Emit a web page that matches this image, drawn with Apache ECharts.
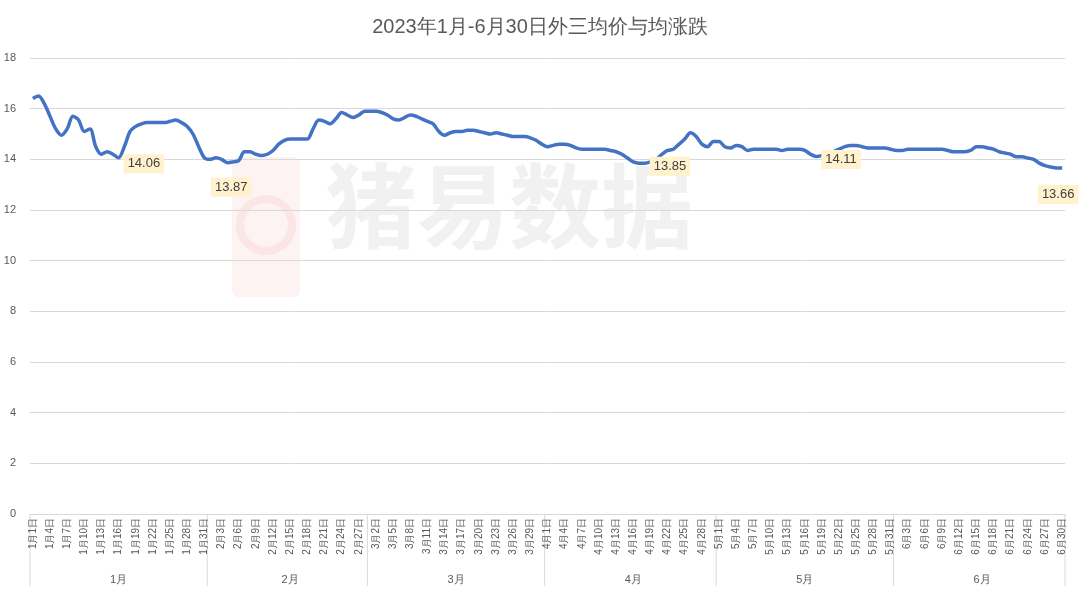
<!DOCTYPE html>
<html><head><meta charset="utf-8">
<script src="https://cdn.jsdelivr.net/npm/echarts@6/dist/echarts.min.js"></script>
<style>html,body{margin:0;padding:0;background:#fff}#c{width:1080px;height:591px}</style>
</head><body><div id="c"></div>
<script>
const monthLengths=[31,28,31,30,31,30];
const monthNames=['1月','2月','3月','4月','5月','6月'];
const values=[
16.4,16.5,16.2,15.7,15.2,14.95,15.2,15.7,15.55,15.1,
15.2,14.5,14.2,14.3,14.2,14.06,14.5,15.1,15.3,15.4,
15.45,15.45,15.45,15.45,15.5,15.55,15.45,15.3,15.0,14.5,
14.06,14.0,14.06,14.0,13.87,13.9,13.95,14.3,14.3,14.2,
14.15,14.2,14.35,14.6,14.75,14.8,14.8,14.8,14.8,15.2,
15.55,15.5,15.4,15.6,15.85,15.75,15.65,15.75,15.9,15.9,
15.9,15.85,15.75,15.6,15.55,15.65,15.75,15.7,15.6,15.5,
15.4,15.1,14.95,15.05,15.1,15.1,15.15,15.15,15.1,15.05,
15.0,15.05,15.0,14.95,14.9,14.9,14.9,14.85,14.75,14.6,
14.5,14.55,14.6,14.6,14.55,14.45,14.4,14.4,14.4,14.4,
14.4,14.35,14.3,14.2,14.05,13.9,13.85,13.85,13.9,14.0,
14.2,14.35,14.4,14.6,14.8,15.05,14.9,14.6,14.5,14.7,
14.7,14.5,14.45,14.55,14.5,14.35,14.4,14.4,14.4,14.4,
14.4,14.35,14.4,14.4,14.4,14.35,14.2,14.11,14.15,14.2,
14.3,14.4,14.5,14.55,14.55,14.5,14.45,14.45,14.45,14.45,
14.4,14.35,14.35,14.4,14.4,14.4,14.4,14.4,14.4,14.4,
14.35,14.3,14.3,14.3,14.35,14.5,14.5,14.45,14.4,14.3,
14.25,14.2,14.1,14.1,14.05,14.0,13.85,13.75,13.7,13.66,13.66];
const labelled={15:['right',[0,6]],34:['bottom',[4,10]],107:['right',[0,3]],137:['right',[0,3]],180:['bottom',[-4,12]]};

const days=[],monthStart=[],monthMid={};
monthLengths.forEach((n,m)=>{monthStart.push(days.length);monthMid[days.length+Math.floor(n/2)]=monthNames[m];
  for(let d=1;d<=n;d++)days.push((m+1)+'月'+d+'日');});
monthStart.push(days.length);
const data=values.map((v,i)=>{
  if(!labelled[i])return v;
  const [pos,off]=labelled[i];
  return {value:v,label:{show:true,position:pos,offset:off,backgroundColor:'#FFF2CC',color:'#404040',fontSize:13,padding:[3,4],formatter:p=>p.value.toFixed(2)}};
});
const chart=echarts.init(document.getElementById('c'));
const baseGraphic=[
    {type:'rect',left:232,top:157,shape:{width:68,height:140,r:6},style:{fill:'rgba(240,140,140,0.10)'},z:-1},
    {type:'circle',shape:{cx:266,cy:225,r:26},style:{fill:'none',stroke:'rgba(230,120,120,0.12)',lineWidth:8},z:-1},
    {type:'text',left:325,top:160,style:{text:'猪易数据',font:'bold 92px "Noto Sans CJK SC"',fill:'rgba(150,150,150,0.13)'},z:-1}
];
chart.setOption({
  animation:false,
  title:{text:'2023年1月-6月30日外三均价与均涨跌',left:'center',top:12,textStyle:{fontSize:20,fontWeight:'normal',color:'#595959'}},
  graphic:baseGraphic,
  grid:{left:30,right:15,top:58,bottom:77},
  xAxis:[{type:'category',data:days,boundaryGap:true,
    axisLine:{lineStyle:{color:'#D9D9D9'}},
    axisTick:{show:false},
    axisLabel:{interval:i=>i%3===0,rotate:90,fontSize:10,color:'#595959',margin:4}},
   {type:'category',data:days,position:'bottom',offset:52,boundaryGap:true,
    axisLine:{show:false},axisTick:{show:false},
    axisLabel:{interval:i=>monthMid[i]!==undefined,formatter:(v,i)=>monthMid[i]||'',fontSize:11,color:'#595959'}}],
  yAxis:{type:'value',min:0,max:18,interval:2,
    axisLabel:{fontSize:11,color:'#595959',margin:14},
    axisLine:{show:false},axisTick:{show:false},
    splitLine:{lineStyle:{color:'#D9D9D9'}}},
  series:[{type:'line',data:data,smooth:0.3,showSymbol:true,symbol:'circle',symbolSize:0,
    lineStyle:{color:'#4472C4',width:3.5},itemStyle:{color:'#4472C4'},label:{show:false}}]
});
// month separator lines at band boundaries, positioned by the axis scale
const half=(chart.convertToPixel({xAxisIndex:0},days[1])-chart.convertToPixel({xAxisIndex:0},days[0]))/2;
const y0=chart.convertToPixel({yAxisIndex:0},0);
const lines=monthStart.map(i=>{
  const x=i<days.length?chart.convertToPixel({xAxisIndex:0},days[i])-half:chart.convertToPixel({xAxisIndex:0},days[days.length-1])+half;
  return {type:'line',shape:{x1:x,y1:y0,x2:x,y2:y0+72},style:{stroke:'#D9D9D9',lineWidth:1}};
});
chart.setOption({graphic:baseGraphic.concat(lines)});
</script></body></html>
